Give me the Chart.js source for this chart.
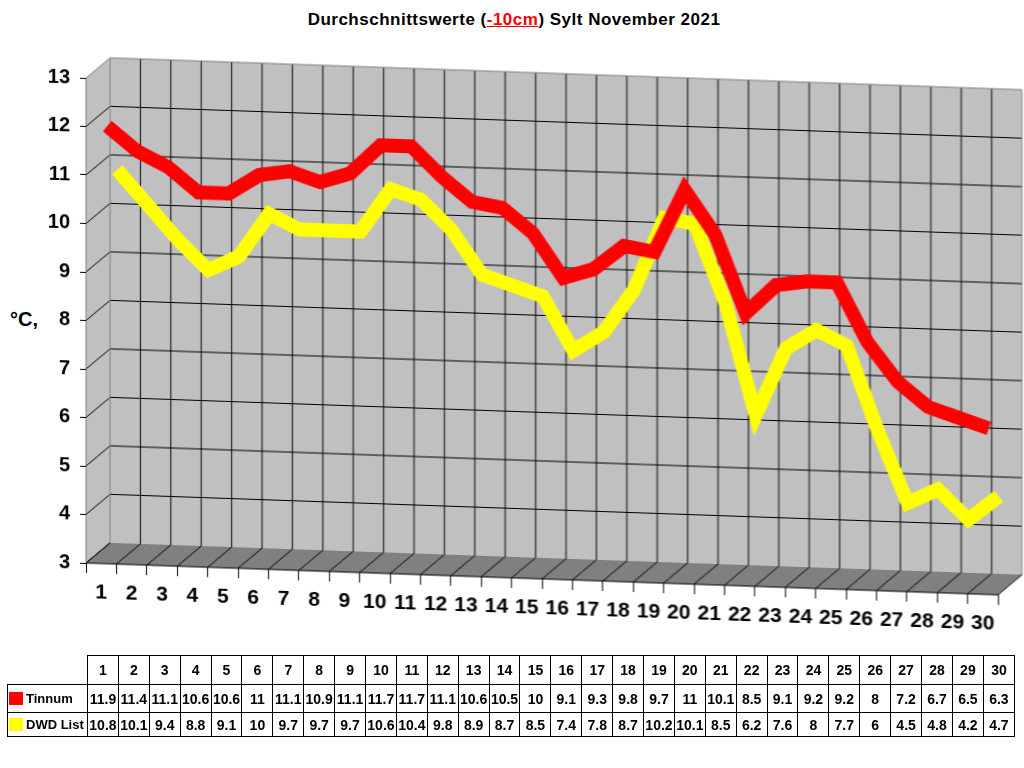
<!DOCTYPE html>
<html>
<head>
<meta charset="utf-8">
<script src="https://cdn.jsdelivr.net/npm/chart.js@4.4.0/dist/chart.umd.min.js"></script>
<style>
  body { margin: 0; background: #fff; font-family: "Liberation Sans", Arial, sans-serif; }
  #wrap { position: relative; width: 1024px; height: 768px; overflow: hidden; }
  #title { position: absolute; top: 10px; left: 0; width: 1028px; text-align: center; font-weight: bold; font-size: 17px; letter-spacing: 0.5px; }
  #title u { color: #f00; }
  #unit { position: absolute; left: 10px; top: 308px; font-weight: bold; font-size: 20px; }
  #cv { position: absolute; left: 0; top: 0; transform: skewY(2deg); transform-origin: 0 0; }
  #tbl { position: absolute; left: 7px; top: 655px; border-collapse: collapse; table-layout: fixed; width: 1008px;
         font-weight: bold; font-size: 14px; z-index: 2; }
  #tbl td { border: 1px solid #000; text-align: center; padding: 0; white-space: nowrap; overflow: hidden; }
  #tbl td.blank { border: none; }
  #tbl td.name { text-align: left; padding-left: 1px; font-size: 13px; }
  #tbl .key { display: inline-block; width: 14px; height: 13px; vertical-align: -2px; margin-right: 3px; }
  #tbl tr.h td { height: 28px; }
  #tbl tr.r1 td { height: 27px; }
  #tbl tr.r2 td { height: 23px; }
</style>
</head>
<body>
<div id="wrap">
  <div id="title">Durchschnittswerte (<u>-10cm</u>) Sylt November 2021</div>
  <div id="unit">°C,</div>
  <canvas id="cv" width="1024" height="620"></canvas>
  <table id="tbl"></table>
</div>
<script>
const days = ['1', '2', '3', '4', '5', '6', '7', '8', '9', '10', '11', '12', '13', '14', '15',
  '16', '17', '18', '19', '20', '21', '22', '23', '24', '25', '26', '27', '28', '29', '30'];
const tinnum = [11.9, 11.4, 11.1, 10.6, 10.6, 11, 11.1, 10.9, 11.1, 11.7, 11.7, 11.1, 10.6, 10.5, 10,
  9.1, 9.3, 9.8, 9.7, 11, 10.1, 8.5, 9.1, 9.2, 9.2, 8, 7.2, 6.7, 6.5, 6.3];
const dwdList = [10.8, 10.1, 9.4, 8.8, 9.1, 10, 9.7, 9.7, 9.7, 10.6, 10.4, 9.8, 8.9, 8.7, 8.5,
  7.4, 7.8, 8.7, 10.2, 10.1, 8.5, 6.2, 7.6, 8, 7.7, 6, 4.5, 4.8, 4.2, 4.7];
const seriesNames = ['Tinnum', 'DWD List'];
const seriesColors = ['#ff0000', '#ffff00'];
const yMin = 3, yMax = 13;

// 3d look: depth of the box and the depth row of each ribbon
const depth = { dx: 24, dy: -21 };
const rowOffsets = [[6, -6], [16, -16]];

// data table under the chart
const tbl = document.getElementById('tbl');
let html = '<colgroup><col style="width:80px">' + days.map(() => '<col>').join('') + '</colgroup>';
html += '<tr class="h"><td class="blank"></td>' + days.map(d => '<td>' + d + '</td>').join('') + '</tr>';
[tinnum, dwdList].forEach((vals, i) => {
  html += '<tr class="r' + (i + 1) + '"><td class="name"><span class="key" style="background:' + seriesColors[i] + '"></span>' +
    seriesNames[i] + '</td>' + vals.map(v => '<td>' + v + '</td>').join('') + '</tr>';
});
tbl.innerHTML = html;

const box3d = {
  id: 'box3d',
  beforeDraw(chart) {
    const { ctx, chartArea: a, scales: { x, y } } = chart;
    const L = a.left, R = a.right;
    const T = y.getPixelForValue(yMax), B = y.getPixelForValue(yMin);
    const dx = depth.dx, dy = depth.dy;
    const w = (R - L) / days.length;
    ctx.save();
    // side wall + back wall
    ctx.fillStyle = '#c0c0c0';
    ctx.beginPath();
    ctx.moveTo(L, T); ctx.lineTo(L + dx, T + dy); ctx.lineTo(L + dx, B + dy); ctx.lineTo(L, B);
    ctx.closePath(); ctx.fill();
    ctx.fillRect(L + dx, T + dy, R - L, B - T);
    // floor
    ctx.fillStyle = '#808080';
    ctx.beginPath();
    ctx.moveTo(L, B); ctx.lineTo(L + dx, B + dy); ctx.lineTo(R + dx, B + dy); ctx.lineTo(R, B);
    ctx.closePath(); ctx.fill();

    ctx.strokeStyle = '#000';
    ctx.lineWidth = 1;
    ctx.beginPath();
    y.ticks.forEach(t => {
      const py = y.getPixelForValue(t.value);
      if (t.value < yMax) {
        ctx.moveTo(L, py); ctx.lineTo(L + dx, py + dy);
      }
      if (t.value > yMin && t.value < yMax) {
        ctx.moveTo(L + dx, py + dy); ctx.lineTo(R + dx, py + dy);
      }
    });
    for (let i = 0; i <= days.length; i++) {
      const bx = L + i * w;
      if (i > 0 && i < days.length) {
        ctx.moveTo(bx + dx, T + dy); ctx.lineTo(bx + dx, B + dy);
      }
      ctx.moveTo(bx, B); ctx.lineTo(bx + dx, B + dy);
    }
    ctx.moveTo(L, B); ctx.lineTo(R, B);
    ctx.stroke();

    // outer edges
    ctx.strokeStyle = '#808080';
    ctx.beginPath();
    ctx.moveTo(L, B); ctx.lineTo(L, T); ctx.lineTo(L + dx, T + dy); ctx.lineTo(R + dx, T + dy); ctx.lineTo(R + dx, B + dy);
    ctx.moveTo(L + dx, T + dy); ctx.lineTo(L + dx, B + dy);
    ctx.stroke();
    ctx.restore();
  },
  beforeDatasetDraw(chart, args) {
    const o = rowOffsets[args.index];
    chart.ctx.save();
    chart.ctx.translate(o[0], o[1]);
  },
  afterDatasetDraw(chart) {
    chart.ctx.restore();
  }
};

Chart.defaults.font.family = '"Liberation Sans", Arial, sans-serif';
Chart.defaults.color = '#000';

new Chart(document.getElementById('cv'), {
  type: 'line',
  data: {
    labels: days,
    datasets: [
      { label: seriesNames[0], data: tinnum, borderColor: seriesColors[0] },
      { label: seriesNames[1], data: dwdList, borderColor: seriesColors[1] }
    ]
  },
  options: {
    responsive: false,
    animation: false,
    layout: { padding: { top: 75, right: 26, bottom: 10, left: 0 } },
    elements: {
      line: { borderWidth: 14, tension: 0, borderCapStyle: 'butt', borderJoinStyle: 'miter', fill: false },
      point: { radius: 0, hoverRadius: 0 }
    },
    datasets: { line: { clip: false } },
    plugins: {
      legend: { display: false },
      title: { display: false },
      tooltip: { enabled: false }
    },
    scales: {
      x: {
        offset: true,
        afterFit: s => { s.height = 50; },
        grid: { offset: true, drawOnChartArea: false, tickLength: 10, color: '#000' },
        border: { display: false },
        ticks: { autoSkip: false, maxRotation: 0, padding: 7, font: { size: 21, weight: 'bold' } }
      },
      y: {
        min: yMin,
        max: yMax,
        afterFit: s => { s.width = 86; },
        grid: { drawOnChartArea: false, tickLength: 6, color: '#000' },
        border: { display: false },
        ticks: { stepSize: 1, padding: 10, font: { size: 20, weight: 'bold' } }
      }
    }
  },
  plugins: [box3d]
});
</script>
</body>
</html>
